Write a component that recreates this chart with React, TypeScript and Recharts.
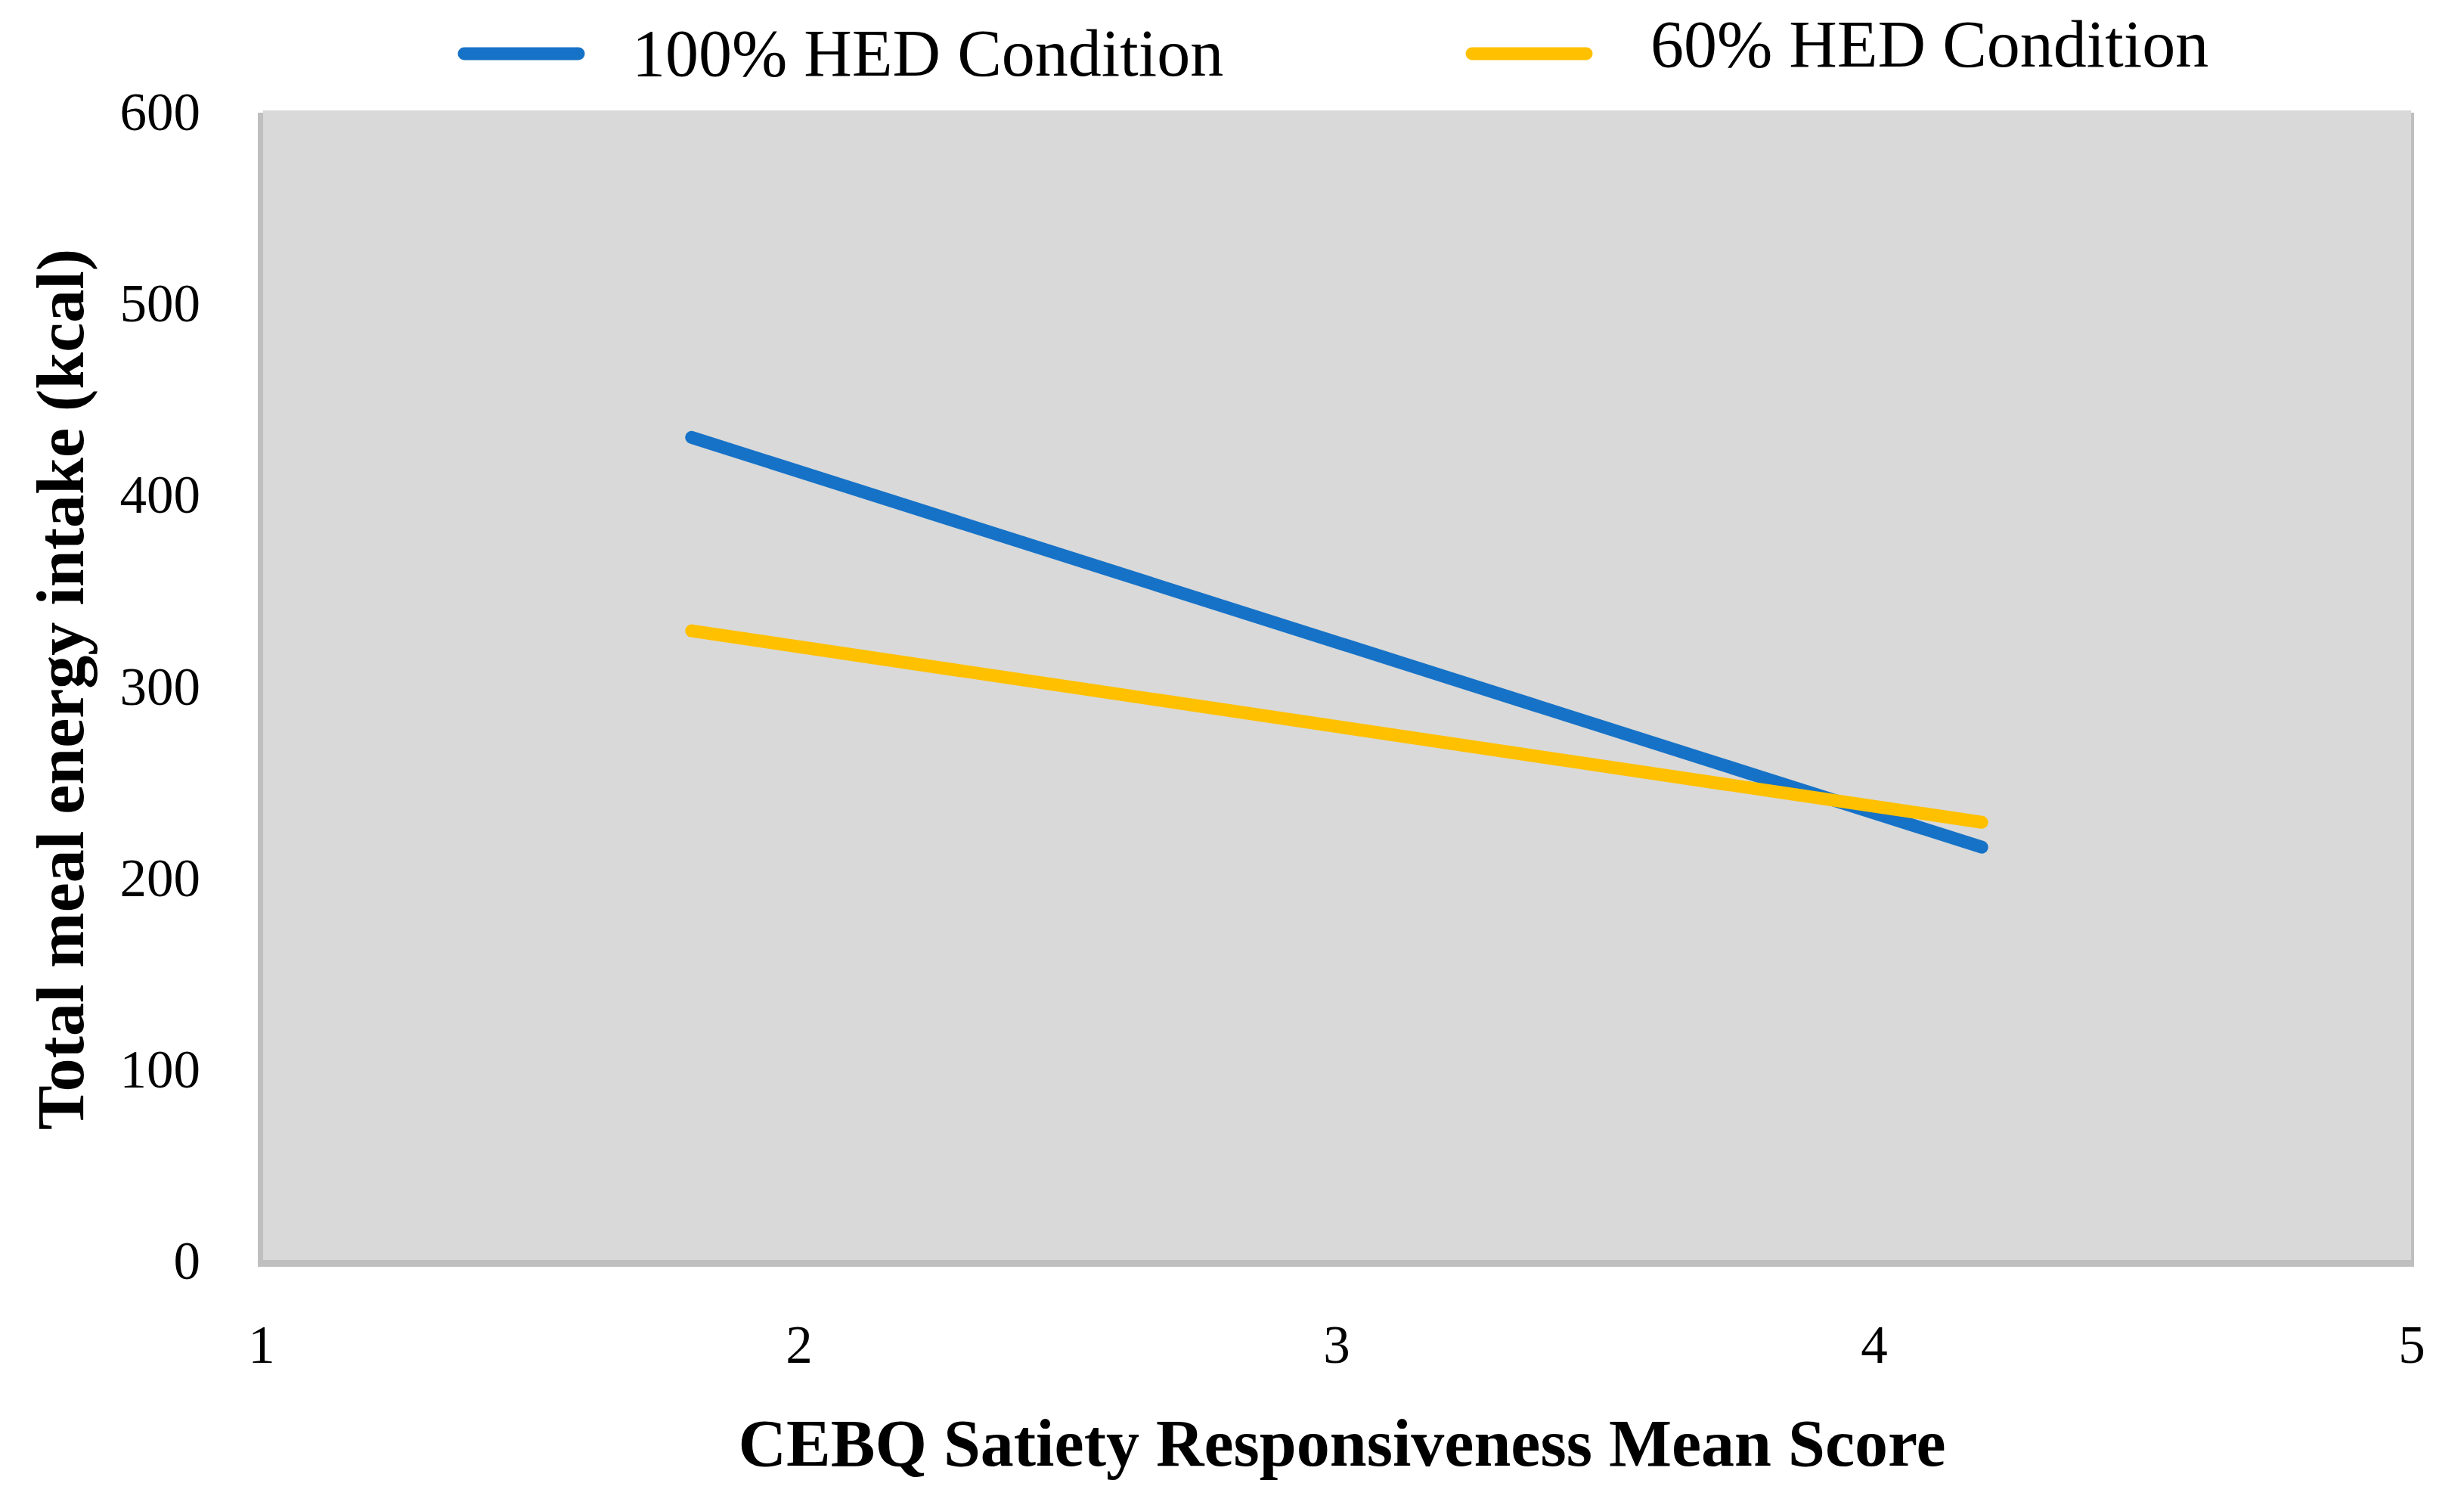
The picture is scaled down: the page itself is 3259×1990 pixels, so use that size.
import React from 'react';
import { LineChart, Line, XAxis, YAxis, ReferenceArea, Legend } from 'recharts';

// values
const scores = [1.8, 4.2];
const hed100 = [430, 216];
const hed60 = [329, 229];
const xTicks = [1, 2, 3, 4, 5];
const yTicks = [0, 100, 200, 300, 400, 500, 600];

const seriesNames = ['100% HED Condition', '60% HED Condition'];
const seriesColors = ['#1672c7', '#ffc000'];

const FONT = '"Liberation Serif", "Times New Roman", serif';

const chartData = scores.map((x, i) => ({ x, hed100: hed100[i], hed60: hed60[i] }));

// plot background with a soft offset shadow (Excel style)
const PlotBackground = (props: any) => {
  const { x, y, width, height } = props;
  return (
    <g>
      <rect x={x - 5} y={y + 1} width={width + 8} height={height + 7} fill="#bfbfbf" />
      <rect x={x + 2} y={y - 2} width={width - 3} height={height + 1} fill="#d9d9d9" />
    </g>
  );
};

const XTick = (props: any) => {
  const { x, y, payload } = props;
  return (
    <text x={x} y={y + 135} textAnchor="middle" fontFamily={FONT} fontSize={71} fill="#000">
      {payload.value}
    </text>
  );
};

const YTick = (props: any) => {
  const { x, y, payload } = props;
  return (
    <text x={x - 81} y={y + 24} textAnchor="end" fontFamily={FONT} fontSize={71} fill="#000">
      {payload.value}
    </text>
  );
};

// legend layout: swatch start, swatch end, text start, text baseline
const legendSlots = [
  { x1: 614, x2: 765, tx: 836, ty: 100 },
  { x1: 1947, x2: 2098, tx: 2183, ty: 88 },
];

const LegendContent = (props: any) => {
  const payload = props.payload || [];
  return (
    <svg width={3259} height={140} style={{ display: 'block' }}>
      {payload.map((entry: any, i: number) => {
        const slot = legendSlots[i];
        if (!slot) return null;
        return (
          <g key={entry.value}>
            <line x1={slot.x1} x2={slot.x2} y1={71} y2={71} stroke={entry.color} strokeWidth={17} strokeLinecap="round" />
            <text x={slot.tx} y={slot.ty} fontFamily={FONT} fontSize={88} fill="#000">
              {entry.value}
            </text>
          </g>
        );
      })}
    </svg>
  );
};

const YLabel = (props: any) => {
  const { viewBox } = props;
  const cy = viewBox.y + viewBox.height / 2 + 4;
  return (
    <text
      x={80}
      y={cy}
      transform={`rotate(-90, 80, ${cy})`}
      textAnchor="middle"
      dominantBaseline="central"
      fontFamily={FONT}
      fontWeight="bold"
      fontSize={88}
      fill="#000"
    >
      Total meal energy intake (kcal)
    </text>
  );
};

const XLabel = (props: any) => {
  const { viewBox } = props;
  return (
    <text
      x={viewBox.x + viewBox.width / 2 + 7}
      y={viewBox.y + 271}
      textAnchor="middle"
      fontFamily={FONT}
      fontWeight="bold"
      fontSize={88}
      fill="#000"
    >
      CEBQ Satiety Responsiveness Mean Score
    </text>
  );
};

const App: React.FC = () => {
  return (
    <div style={{ width: 3259, height: 1990, background: '#fff' }}>
      <style>{'body{margin:0}'}</style>
      <LineChart
        width={3259}
        height={1990}
        data={chartData}
        margin={{ top: 8, right: 69, bottom: 0, left: 0 }}
      >
        <ReferenceArea x1={1} x2={5} y1={0} y2={600} shape={PlotBackground} ifOverflow="visible" />
        <XAxis
          dataKey="x"
          type="number"
          domain={[1, 5]}
          ticks={xTicks}
          axisLine={false}
          tickLine={false}
          tickSize={0}
          tickMargin={0}
          height={323}
          tick={<XTick />}
          interval={0}
          label={<XLabel />}
        />
        <YAxis
          type="number"
          domain={[0, 600]}
          ticks={yTicks}
          axisLine={false}
          tickLine={false}
          tickSize={0}
          tickMargin={0}
          width={346}
          tick={<YTick />}
          interval={0}
          label={<YLabel />}
        />
        <Legend
          verticalAlign="top"
          height={140}
          content={<LegendContent />}
          wrapperStyle={{ position: 'absolute', top: 0, left: 0, width: 3259, height: 140 }}
        />
        <Line
          dataKey="hed100"
          name={seriesNames[0]}
          stroke={seriesColors[0]}
          strokeWidth={17}
          strokeLinecap="round"
          dot={false}
          activeDot={false}
          isAnimationActive={false}
        />
        <Line
          dataKey="hed60"
          name={seriesNames[1]}
          stroke={seriesColors[1]}
          strokeWidth={17}
          strokeLinecap="round"
          dot={false}
          activeDot={false}
          isAnimationActive={false}
        />
      </LineChart>
    </div>
  );
};

export default App;
